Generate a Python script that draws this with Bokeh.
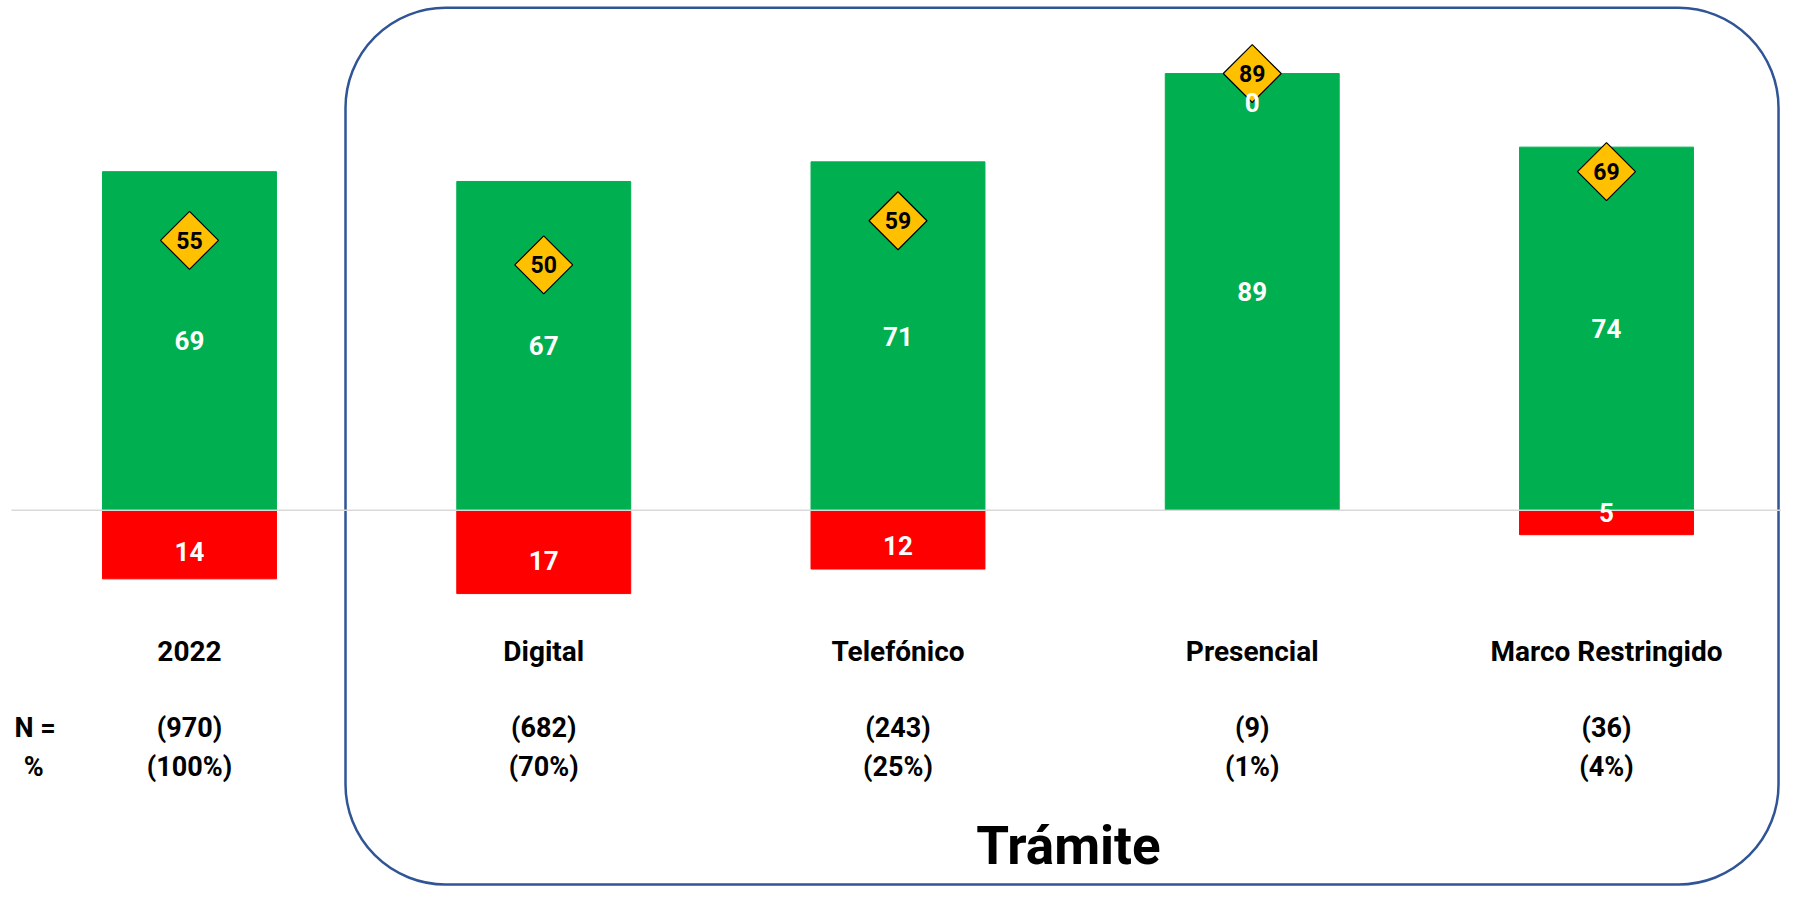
import numpy as np
from bokeh.plotting import figure
from bokeh.models import ColumnDataSource, BoxAnnotation
from bokeh.core.properties import value
from bokeh.embed import file_html
from bokeh.resources import INLINE

categories = ["2022", "Digital", "Telefónico", "Presencial", "Marco Restringido"]
positive = [69, 67, 71, 89, 74]
negative = [14, 17, 12, 0, 5]
score = [55, 50, 59, 89, 69]
n_labels = ["(970)", "(682)", "(243)", "(9)", "(36)"]
pct_labels = ["(100%)", "(70%)", "(25%)", "(1%)", "(4%)"]
group_title = "Trámite"

W, H = 1781, 886
FONT = value("Roboto")
GREEN, RED, GOLD, BLUE = "#00B050", "#FF0000", "#FFC000", "#2F5597"

x = list(range(len(categories)))
neg = [-v for v in negative]
pos_lab_y = [v / 2 for v in positive]
neg_lab_y = [(-0.6 * v) if v > 6 else (-v / 2 + 2 if v > 0 else p - 6)
             for v, p in zip(negative, positive)]

src = ColumnDataSource(dict(
    x=x, pos=positive, neg=neg, score=score,
    pos_y=pos_lab_y, neg_y=neg_lab_y,
    pos_txt=[str(v) for v in positive], neg_txt=[str(v) for v in negative],
    score_txt=[str(v) for v in score],
))

p = figure(width=W, height=H, output_backend="svg", toolbar_location=None,
           x_range=(-0.5335, 4.494), y_range=(-76.71, 103.89),
           min_border=0, outline_line_color=None)
p.axis.visible = False
p.grid.visible = False
p.background_fill_color = "white"
p.border_fill_color = "white"

# rounded frame for the "Trámite" group
box = BoxAnnotation(left=0.4404, right=4.4856, top=102.4, bottom=-76.3,
                    fill_color=None, fill_alpha=0, line_color=BLUE, line_alpha=1.0,
                    line_width=2.5, border_radius=100, level="underlay")
p.add_layout(box)

p.vbar(x="x", top="pos", bottom=0, width=0.491, color=GREEN, source=src)
p.vbar(x="x", top=0, bottom="neg", width=0.491, color=RED, source=src)

# zero baseline
p.segment(x0=[-0.5025], y0=[0], x1=[4.5], y1=[0], line_color="#D9D9D9", line_width=1.5)

p.scatter(x="x", y="score", marker="square", angle=np.pi / 4, size=41,
          fill_color=GOLD, line_color="black", line_width=1.2, source=src)

common = dict(text_font=FONT, text_font_style="bold", text_align="center",
              text_baseline="middle")

p.text(x="x", y="pos_y", text="pos_txt", text_color="white",
       text_font_size="26px", source=src, **common)
p.text(x="x", y="score", text="score_txt", text_color="black",
       text_font_size="23px", source=src, **common)
p.text(x="x", y="neg_y", text="neg_txt", text_color="white",
       text_font_size="26px", source=src, **common)

p.text(x="x", y="yy", text="cat", text_color="black", text_font_size="28px",
       source=ColumnDataSource(dict(x=x, cat=categories, yy=[-28.8] * len(x))), **common)
p.text(x="x", y="yy", text="n", text_color="black", text_font_size="27px",
       source=ColumnDataSource(dict(x=x, n=n_labels, yy=[-44.5] * len(x))), **common)
p.text(x="x", y="yy", text="pct", text_color="black", text_font_size="27px",
       source=ColumnDataSource(dict(x=x, pct=pct_labels, yy=[-52.4] * len(x))), **common)

p.text(x=[-0.494], y=[-44.5], text=["N ="], text_color="black", text_font=FONT,
       text_font_style="bold", text_font_size="27px", text_align="left",
       text_baseline="middle")
p.text(x=[-0.44], y=[-52.4], text=["%"], text_color="black", text_font_size="27px",
       **common)

p.text(x=[2.481], y=[-68.5], text=[group_title], text_color="black",
       text_font_size="53px", **common)

open("out.html", "w").write(file_html(p, INLINE))
